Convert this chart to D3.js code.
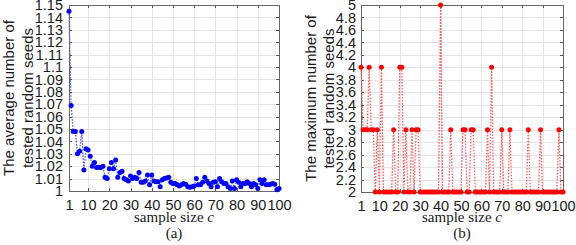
<!DOCTYPE html>
<html>
<head>
<meta charset="utf-8">
<script src="https://cdn.jsdelivr.net/npm/d3@7"></script>
<style>
body { margin: 0; background: #fff; }
text { font-family: "Liberation Sans", Arial, sans-serif; fill: #1a1a1a; }
.serif { font-family: "Liberation Serif", "DejaVu Serif", serif; }
</style>
</head>
<body>
<script>

// sample size c = 1..100
var sampleSizes = d3.range(1, 101);

var avgSeeds = [
	1.145, 1.069, 1.048, 1.048, 1.030, 1.032, 1.048, 1.017, 1.034, 1.033,
	1.028, 1.020, 1.023, 1.019, 1.019, 1.019, 1.020, 1.011, 1.010, 1.018,
	1.023, 1.018, 1.025, 1.011, 1.015, 1.016, 1.010, 1.009, 1.008, 1.012,
	1.010, 1.011, 1.010, 1.015, 1.007, 1.007, 1.008, 1.013, 1.005, 1.013,
	1.008, 1.0075, 1.0075, 1.0035, 1.009, 1.010, 1.0105, 1.011, 1.007, 1.006,
	1.006, 1.005, 1.004, 1.005, 1.006, 1.0055, 1.0035, 1.003, 1.0035, 1.004,
	1.010, 1.005, 1.005, 1.007, 1.011, 1.008, 1.006, 1.0035, 1.007, 1.0075,
	1.0035, 1.010, 1.0075, 1.006, 1.006, 1.0035, 1.002, 1.008, 1.002, 1.009,
	1.007, 1.0035, 1.006, 1.006, 1.0075, 1.006, 1.0035, 1.006, 1.005, 1.002,
	1.009, 1.006, 1.009, 1.005, 1.005, 1.0055, 1.006, 1.0055, 1.001, 1.002
];

var maxSeeds = [
	4, 3, 3, 3, 4, 3, 3, 2, 3, 2,
	4, 2, 2, 2, 2, 2, 3, 2, 2, 4,
	4, 2, 3, 2, 2, 3, 2, 3, 3, 2,
	2, 2, 2, 2, 2, 2, 2, 2, 2, 5,
	2, 2, 2, 2, 3, 2, 2, 2, 2, 2,
	3, 3, 2, 2, 3, 3, 2, 2, 2, 2,
	2, 2, 3, 2, 4, 2, 2, 2, 2, 3,
	2, 2, 2, 3, 2, 2, 2, 2, 2, 2,
	2, 2, 3, 2, 2, 2, 2, 2, 3, 2,
	2, 2, 2, 2, 2, 2, 2, 3, 2, 2
];

var xTicks = [1, 10, 20, 30, 40, 50, 60, 70, 80, 90, 100];
var avgTicks = [1, 1.01, 1.02, 1.03, 1.04, 1.05, 1.06, 1.07, 1.08, 1.09, 1.1, 1.11, 1.12, 1.13, 1.14, 1.15];
var maxTicks = [2, 2.2, 2.4, 2.6, 2.8, 3, 3.2, 3.4, 3.6, 3.8, 4, 4.2, 4.4, 4.6, 4.8, 5];

var svg = d3.select("body").append("svg")
	.attr("width", 576)
	.attr("height", 245);

function panel(p) {
	var x = d3.scaleLinear().domain([1, 100]).range([p.left, p.right]);
	var y = d3.scaleLinear().domain(p.yDomain).range([p.bottom, p.top]);
	var g = svg.append("g");

	// grid
	g.append("g")
		.attr("transform", "translate(0," + p.bottom + ")")
		.call(d3.axisBottom(x).tickValues(xTicks).tickSize(-(p.bottom - p.top)).tickFormat(""))
		.call(function(s) { s.select(".domain").remove(); })
		.selectAll("line").attr("stroke", "#e6e6e6").attr("shape-rendering", "crispEdges");
	g.append("g")
		.attr("transform", "translate(" + p.left + ",0)")
		.call(d3.axisLeft(y).tickValues(p.yTicks).tickSize(-(p.right - p.left)).tickFormat(""))
		.call(function(s) { s.select(".domain").remove(); })
		.selectAll("line").attr("stroke", "#e6e6e6").attr("shape-rendering", "crispEdges");

	// inward ticks + labels
	var bx = g.append("g")
		.attr("transform", "translate(0," + p.bottom + ")")
		.call(d3.axisBottom(x).tickValues(xTicks).tickSizeInner(-3).tickSizeOuter(0).tickPadding(9));
	var ly = g.append("g")
		.attr("transform", "translate(" + p.left + ",0)")
		.call(d3.axisLeft(y).tickValues(p.yTicks).tickSizeInner(-3).tickSizeOuter(0).tickPadding(p.pad).tickFormat(d3.format(p.fmt)));
	var tx = g.append("g")
		.attr("transform", "translate(0," + p.top + ")")
		.call(d3.axisTop(x).tickValues(xTicks).tickSizeInner(-3).tickSizeOuter(0).tickFormat(""));
	var ry = g.append("g")
		.attr("transform", "translate(" + p.right + ",0)")
		.call(d3.axisRight(y).tickValues(p.yTicks).tickSizeInner(-3).tickSizeOuter(0).tickFormat(""));
	[bx, ly, tx, ry].forEach(function(a) {
		a.select(".domain").remove();
		a.selectAll("line").attr("stroke", "#555").attr("shape-rendering", "crispEdges");
		a.selectAll("text").attr("font-size", 14.5).attr("fill", "#1a1a1a");
	});

	g.append("rect")
		.attr("x", p.left).attr("y", p.top)
		.attr("width", p.right - p.left).attr("height", p.bottom - p.top)
		.attr("fill", "none").attr("stroke", "#666").attr("shape-rendering", "crispEdges");

	// series
	var line = d3.line()
		.x(function(d, i) { return x(sampleSizes[i]); })
		.y(function(d) { return y(d); });
	g.append("path")
		.datum(p.values)
		.attr("d", line)
		.attr("fill", "none")
		.attr("stroke", p.lineColor)
		.attr("stroke-width", 1.3)
		.attr("stroke-dasharray", "1.6,1.4");
	g.selectAll("circle")
		.data(p.values)
		.enter()
		.append("circle")
		.attr("cx", function(d, i) { return x(sampleSizes[i]); })
		.attr("cy", function(d) { return y(d); })
		.attr("r", 2.5)
		.attr("fill", p.color);

	// y label (two lines)
	var cy = (p.top + p.bottom) / 2;
	p.yLabel.forEach(function(t, i) {
		g.append("text")
			.attr("transform", "translate(" + p.labelX[i] + "," + cy + ") rotate(-90)")
			.attr("text-anchor", "middle")
			.attr("font-size", 15)
			.text(t);
	});

	var cx = (p.left + p.right) / 2;
	var xl = g.append("text")
		.attr("class", "serif")
		.attr("x", cx).attr("y", 222)
		.attr("text-anchor", "middle")
		.attr("font-size", 15)
		.text("sample size ");
	xl.append("tspan").attr("font-style", "italic").text("c");

	g.append("text")
		.attr("class", "serif")
		.attr("x", cx).attr("y", 238)
		.attr("text-anchor", "middle")
		.attr("font-size", 15)
		.text(p.caption);
}

panel({
	left: 69, right: 279, top: 5, bottom: 191,
	yDomain: [1, 1.15], yTicks: avgTicks, fmt: ".2~f", pad: 6,
	values: avgSeeds, color: "#0000ff", lineColor: "#5a5aff",
	yLabel: ["The average number of", "tested random seeds"], labelX: [14, 33],
	caption: "(a)"
});

panel({
	left: 361, right: 563, top: 5, bottom: 192,
	yDomain: [2, 5], yTicks: maxTicks, fmt: ".1~f", pad: 5,
	values: maxSeeds, color: "#ff0000", lineColor: "#ff6060",
	yLabel: ["The maximum number of", "tested random seeds"], labelX: [315.5, 333.5],
	caption: "(b)"
});

</script>
</body>
</html>
